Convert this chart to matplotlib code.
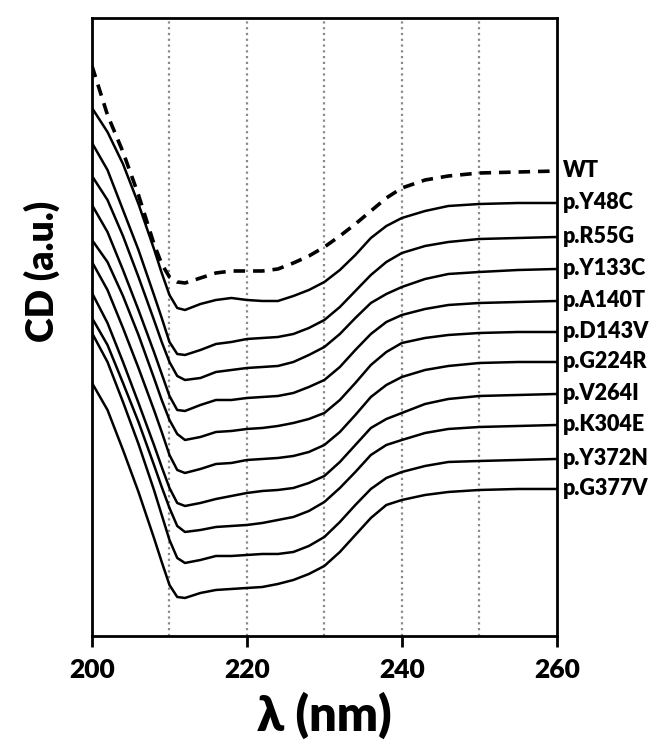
import numpy as np
import matplotlib
matplotlib.use('Agg')
import matplotlib.pyplot as plt

plt.rcParams['font.family'] = ['Lato', 'DejaVu Sans']
plt.rcParams['font.weight'] = 'heavy'

# Wavelength grid (nm)
wavelength = [200, 202, 204, 206, 208, 209, 210, 211, 212, 214, 216, 218, 220, 222,
              224, 226, 228, 230, 232, 234, 236, 238, 240, 243, 246, 250, 255, 260]

# Spectra, as depth below the top of the frame (a.u.)
wt = [66, 115, 152, 195, 244, 264, 277, 282, 283, 278, 273, 271, 271, 271,
      269, 263, 256, 247, 236, 224, 211, 198, 188, 180, 176, 173, 172, 171]
y48c = [108, 132, 164, 204, 249, 273, 295, 308, 310, 304, 300, 298, 300, 301,
        301, 296, 290, 282, 270, 255, 238, 226, 218, 211, 206, 204, 203, 203]
r55g = [143, 170, 210, 250, 295, 318, 342, 354, 355, 350, 344, 342, 339, 338,
        337, 334, 328, 320, 307, 291, 275, 262, 253, 246, 242, 239, 238, 237]
y133c = [176, 200, 236, 277, 320, 342, 362, 376, 380, 378, 372, 370, 368, 367,
         366, 362, 355, 347, 334, 318, 303, 294, 287, 279, 274, 272, 270, 269]
a140t = [205, 232, 270, 310, 352, 374, 396, 410, 411, 405, 400, 400, 398, 397,
         396, 393, 387, 380, 367, 350, 334, 322, 315, 309, 305, 303, 302, 301]
d143v = [240, 262, 296, 335, 378, 400, 420, 434, 440, 437, 432, 431, 429, 428,
         426, 423, 419, 413, 400, 383, 365, 352, 343, 338, 335, 333, 332, 332]
g224r = [262, 290, 328, 368, 410, 432, 455, 470, 473, 469, 464, 463, 460, 459,
         458, 456, 452, 445, 432, 415, 397, 385, 377, 370, 366, 363, 362, 362]
v264i = [293, 323, 362, 403, 445, 467, 488, 503, 506, 503, 499, 496, 493, 491,
         490, 488, 483, 476, 462, 445, 428, 419, 413, 404, 399, 396, 395, 394]
k304e = [318, 345, 383, 422, 465, 487, 508, 526, 532, 530, 527, 526, 525, 523,
         520, 517, 511, 502, 488, 472, 455, 445, 440, 433, 429, 427, 426, 425]
y372n = [333, 362, 402, 444, 490, 515, 540, 558, 563, 560, 556, 556, 555, 554,
         554, 552, 546, 537, 522, 505, 489, 478, 472, 466, 462, 461, 460, 459]
g377v = [383, 410, 450, 492, 538, 562, 585, 597, 598, 593, 590, 589, 588, 587,
         584, 580, 574, 566, 552, 535, 518, 505, 500, 495, 492, 490, 489, 489]

labels = ['WT', 'p.Y48C', 'p.R55G', 'p.Y133C', 'p.A140T', 'p.D143V',
          'p.G224R', 'p.V264I', 'p.K304E', 'p.Y372N', 'p.G377V']
series = [wt, y48c, r55g, y133c, a140t, d143v, g224r, v264i, k304e, y372n, g377v]

FRAME_TOP = 636  # converts depth readings to CD height

fig = plt.figure(figsize=(6.62, 7.44), dpi=100)
ax = fig.add_axes([0.139, 0.1452, 0.702, 0.8306])

for x in [210, 220, 230, 240, 250]:
    ax.axvline(x, color='#8a8a8a', lw=1.6, ls=(0, (1, 1.6)), zorder=1)

for name, vals in zip(labels, series):
    cd = FRAME_TOP - np.array(vals)
    if name == 'WT':
        ax.plot(wavelength, cd, color='black', lw=2.6, ls=(0, (3.2, 2.2)), zorder=3)
    else:
        ax.plot(wavelength, cd, color='black', lw=1.8, zorder=3)
    ax.text(260.8, cd[-1], name, fontsize=15.5, fontweight='heavy',
            ha='left', va='center', clip_on=False)

ax.set_xlim(200, 260)
ax.set_ylim(0, FRAME_TOP - 18)
ax.set_xticks([200, 220, 240, 260])
ax.set_yticks([])
ax.tick_params(axis='x', direction='out', length=8, width=2, labelsize=19, pad=8)
for lab in ax.get_xticklabels():
    lab.set_fontweight('heavy')
for sp in ax.spines.values():
    sp.set_linewidth(2)
    sp.set_color('black')

ax.set_xlabel('λ (nm)', fontsize=35, fontweight='heavy', labelpad=7)
ax.set_ylabel('CD (a.u.)', fontsize=27, fontweight='heavy')
ax.yaxis.set_label_coords(-0.068, 0.59)

fig.savefig('out.png', dpi=100)
plt.close(fig)
